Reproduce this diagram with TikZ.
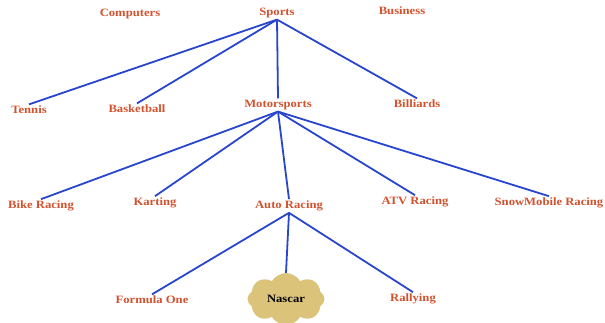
\documentclass[tikz,border=0pt]{standalone}
\usepackage{fontspec}
\setmainfont{Liberation Serif}
\newfontfamily\labelfont[FakeStretch=1.13]{Liberation Serif}
\usetikzlibrary{shapes.symbols}
\definecolor{labelred}{RGB}{208,82,46}
\definecolor{linkblue}{RGB}{40,70,205}
\definecolor{cloudtan}{RGB}{219,196,122}
\begin{document}
\begin{tikzpicture}[x=1pt,y=-1pt,
  topic/.style={font=\labelfont\bfseries\fontsize{11.2}{13}\selectfont, text=labelred, inner sep=1.5pt},
  link/.style={draw=linkblue, line width=1.8pt},
  puff/.style={cloud, cloud puffs=8, cloud puff arc=120, aspect=1.5, fill=cloudtan,
    minimum width=77pt, minimum height=52pt, inner sep=0pt,
    font=\labelfont\bfseries\fontsize{11.2}{13}\selectfont, text=black}]
\useasboundingbox (0,0) rectangle (605,322);
% top row
\node[topic] (computers) at (130,14) {Computers};
\node[topic] (sports) at (277,13) {Sports};
\node[topic] (business) at (402,11) {Business};
% second row
\node[topic] (tennis) at (29,110) {Tennis};
\node[topic] (basketball) at (137,109) {Basketball};
\node[topic] (motor) at (278,105) {Motorsports};
\node[topic] (billiards) at (417,104) {Billiards};
% third row
\node[topic] (bike) at (41,206) {Bike Racing};
\node[topic] (karting) at (155,203) {Karting};
\node[topic] (auto) at (289,206) {Auto Racing};
\node[topic] (atv) at (415,202) {ATV Racing};
\node[topic] (snow) at (549,203) {SnowMobile Racing};
% bottom row
\node[topic] (f1) at (152,300) {Formula One};
\node[puff] (nascar) at (286,299) {Nascar};
\node[topic] (rally) at (413,299) {Rallying};
% connectors
\foreach \c in {tennis,basketball,motor,billiards}
  \draw[link] (sports.south) -- (\c.north);
\foreach \c in {bike,karting,auto,atv,snow}
  \draw[link] (motor.south) -- (\c.north);
\foreach \c in {f1,nascar,rally}
  \draw[link] (auto.south) -- (\c.north);
\end{tikzpicture}
\end{document}
